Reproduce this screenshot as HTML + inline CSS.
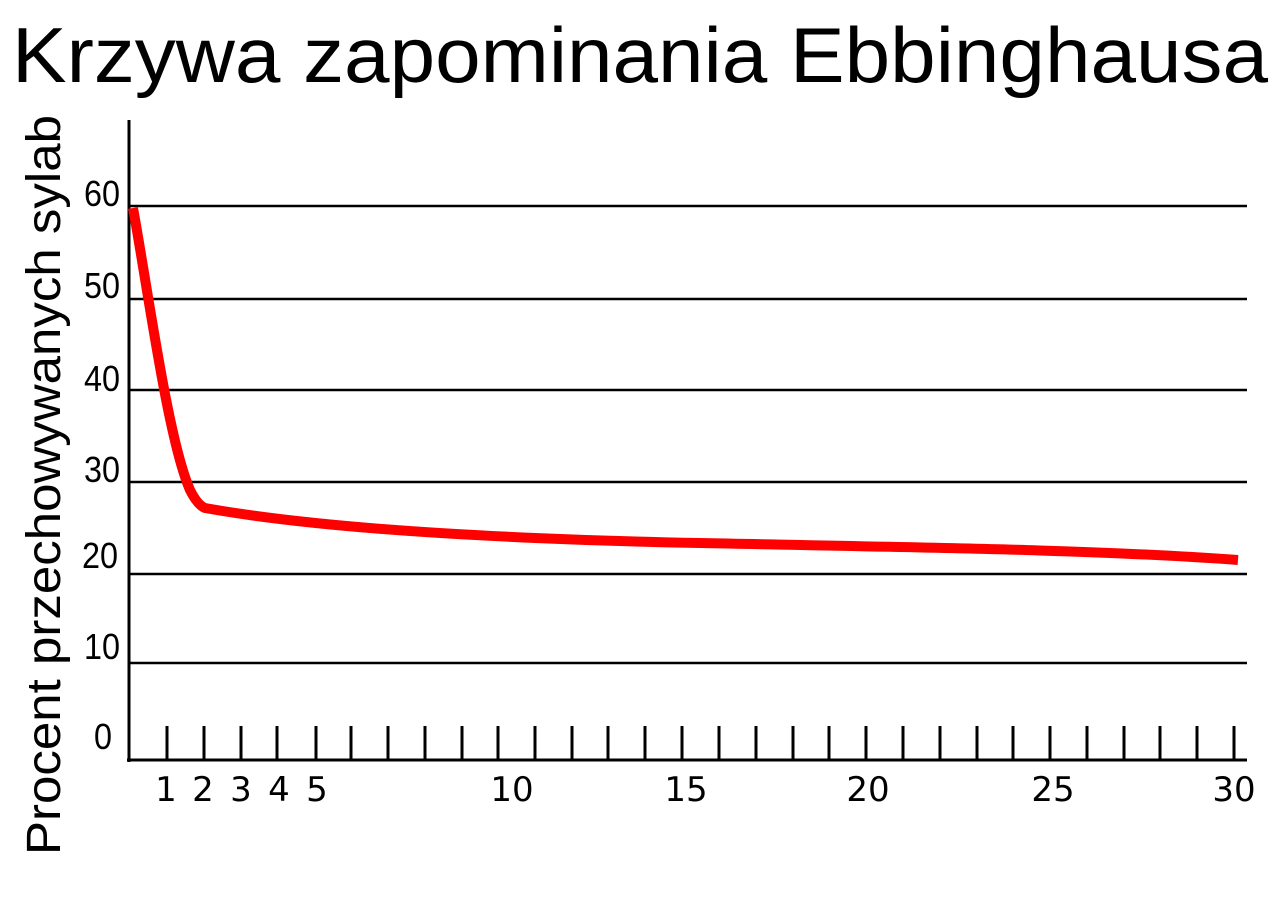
<!DOCTYPE html>
<html><head><meta charset="utf-8"><style>body{margin:0;background:#fff}svg{display:block}</style></head>
<body>
<svg width="1280" height="901" viewBox="0 0 1280 901" xmlns="http://www.w3.org/2000/svg">
<text x="12" y="82" font-family="Liberation Sans, sans-serif" font-size="78" textLength="1256" lengthAdjust="spacingAndGlyphs">Krzywa zapominania Ebbinghausa</text>
<text transform="translate(60,855) rotate(-90)" font-family="Liberation Sans, sans-serif" font-size="48" textLength="740" lengthAdjust="spacingAndGlyphs">Procent przechowywanych sylab</text>
<g stroke="#000" stroke-width="2.5">
<line x1="129" y1="206" x2="1247" y2="206"/>
<line x1="129" y1="299" x2="1247" y2="299"/>
<line x1="129" y1="390" x2="1247" y2="390"/>
<line x1="129" y1="482" x2="1247" y2="482"/>
<line x1="129" y1="574" x2="1247" y2="574"/>
<line x1="129" y1="663" x2="1247" y2="663"/>
</g>
<line x1="129" y1="120" x2="129" y2="762" stroke="#000" stroke-width="3"/>
<line x1="127" y1="760" x2="1247" y2="760" stroke="#000" stroke-width="3"/>
<g stroke="#000" stroke-width="3">
<line x1="167" y1="726" x2="167" y2="760"/><line x1="204" y1="726" x2="204" y2="760"/><line x1="241" y1="726" x2="241" y2="760"/><line x1="277" y1="726" x2="277" y2="760"/><line x1="316" y1="726" x2="316" y2="760"/><line x1="351" y1="726" x2="351" y2="760"/><line x1="388" y1="726" x2="388" y2="760"/><line x1="425" y1="726" x2="425" y2="760"/><line x1="462" y1="726" x2="462" y2="760"/><line x1="498" y1="726" x2="498" y2="760"/><line x1="535" y1="726" x2="535" y2="760"/><line x1="572" y1="726" x2="572" y2="760"/><line x1="608" y1="726" x2="608" y2="760"/><line x1="645" y1="726" x2="645" y2="760"/><line x1="682" y1="726" x2="682" y2="760"/><line x1="719" y1="726" x2="719" y2="760"/><line x1="756" y1="726" x2="756" y2="760"/><line x1="793" y1="726" x2="793" y2="760"/><line x1="829" y1="726" x2="829" y2="760"/><line x1="866" y1="726" x2="866" y2="760"/><line x1="903" y1="726" x2="903" y2="760"/><line x1="940" y1="726" x2="940" y2="760"/><line x1="977" y1="726" x2="977" y2="760"/><line x1="1013" y1="726" x2="1013" y2="760"/><line x1="1050" y1="726" x2="1050" y2="760"/><line x1="1087" y1="726" x2="1087" y2="760"/><line x1="1124" y1="726" x2="1124" y2="760"/><line x1="1160" y1="726" x2="1160" y2="760"/><line x1="1197" y1="726" x2="1197" y2="760"/><line x1="1234" y1="726" x2="1234" y2="760"/>
</g>
<g font-family="Liberation Sans, sans-serif" font-size="36" text-anchor="end">
<text x="120" y="206" textLength="36" lengthAdjust="spacingAndGlyphs">60</text>
<text x="120" y="298" textLength="36" lengthAdjust="spacingAndGlyphs">50</text>
<text x="120" y="391" textLength="36" lengthAdjust="spacingAndGlyphs">40</text>
<text x="120" y="482" textLength="36" lengthAdjust="spacingAndGlyphs">30</text>
<text x="118" y="568" textLength="36" lengthAdjust="spacingAndGlyphs">20</text>
<text x="120" y="659" textLength="36" lengthAdjust="spacingAndGlyphs">10</text>
<text x="112" y="749" textLength="18" lengthAdjust="spacingAndGlyphs">0</text>
</g>
<g font-family="DejaVu Sans, sans-serif" font-size="34" text-anchor="middle">
<text x="166" y="801">1</text>
<text x="203" y="801">2</text>
<text x="241" y="801">3</text>
<text x="279" y="801">4</text>
<text x="317" y="801">5</text>
<text x="512" y="801">10</text>
<text x="686" y="801">15</text>
<text x="868" y="801">20</text>
<text x="1053" y="801">25</text>
<text x="1234" y="801">30</text>
</g>
<path d="M133,208 C148,290 168,440 190,490 C195,500 200,506 205,508 C300,525 450,538 700,543 C950,548 1100,550 1238,560" fill="none" stroke="#f00" stroke-width="10"/>
</svg>
</body></html>
